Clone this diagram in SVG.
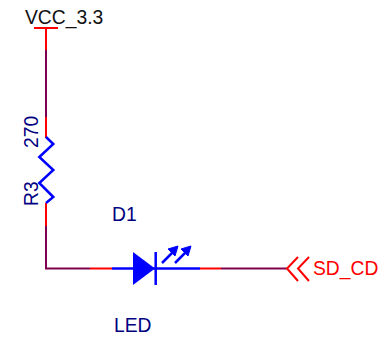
<svg xmlns="http://www.w3.org/2000/svg" width="383" height="337" viewBox="0 0 383 337">
<style>
.w{fill:none;stroke-width:2}
.r{stroke:#ff0000}
.p{stroke:#800050}
.b{fill:none;stroke:#0000ff;stroke-width:2.500}
text{font-family:"Liberation Sans",Arial,sans-serif;font-size:19.300px}
.n{fill:#000080}
</style>
<rect width="383" height="337" fill="#fff"/>
<g id="connectors">
<path class="w r" d="M46 28V50M46 117V138M46 203V226M90 268.500H112M200 268.500H221"/>
<path class="w p" d="M46 50V117M46 226V268.500H90M221 268.500H287"/>
</g>
<g id="VCC_3.3">
<path class="w r" d="M34 28H58"/>
<text x="25" y="24" fill="#111">VCC_3.3</text>
</g>
<g id="R3">
<path class="b" d="M46 137L53.300 144L39.300 157L53.300 170L39.300 183L53.300 197L46 203"/>
<text class="n" transform="translate(38 148) rotate(-90)">270</text>
<text class="n" transform="translate(38 206) rotate(-90)">R3</text>
</g>
<g id="D1">
<path class="b" d="M112 268.500H200"/>
<path d="M133 252L155 268.500L133 285Z" fill="#0000ff"/>
<path class="b" d="M155.700 252V285"/>
<path class="b" d="M162 263L174 251M175 263L187 251"/>
<path d="M168 249L178 246L175 256ZM181 249L191 246L188 256Z" fill="#0000ff" stroke="#0000ff"/>
<text class="n" x="112" y="221">D1</text>
<text class="n" x="114" y="332">LED</text>
</g>
<g id="SD_CD">
<path class="w r" d="M298 257L287 268.500L298 281M309 257L298 268.500L309 281"/>
<text x="313" y="275" fill="#ff0000">SD_CD</text>
</g>
</svg>
